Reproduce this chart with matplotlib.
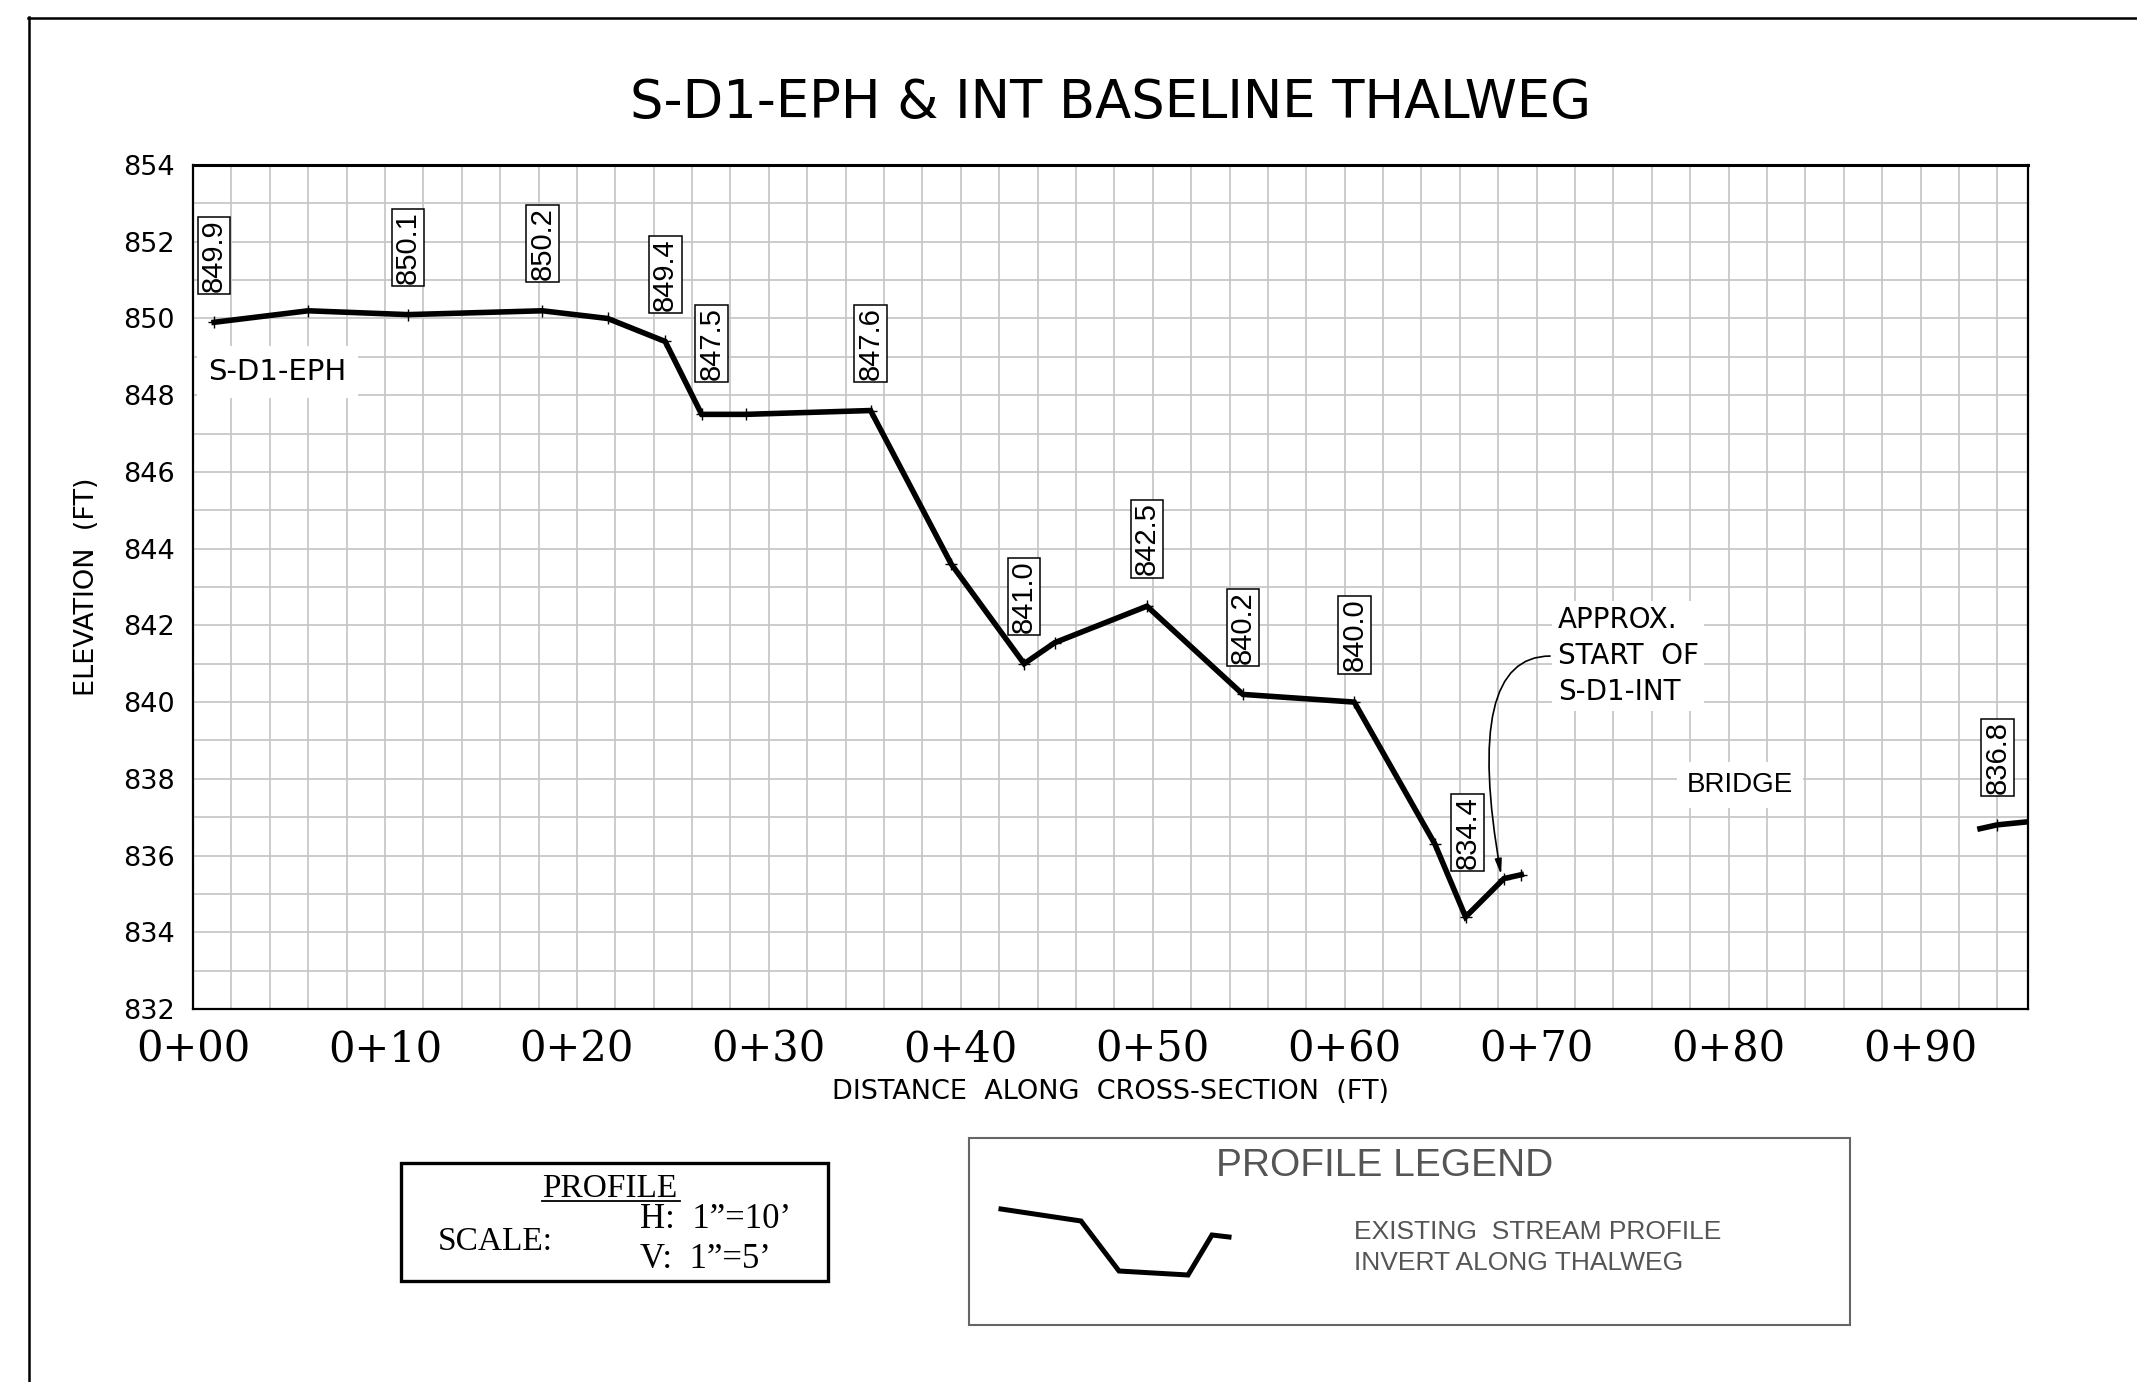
import matplotlib.pyplot as plt
import matplotlib.ticker as mticker

# thalweg survey, S-D1-EPH down to the approx. start of S-D1-INT
dist = [1.1, 6.0, 11.2, 18.2, 21.6, 24.6, 26.5, 28.8, 35.3, 39.5, 43.3, 44.9,
        49.7, 54.7, 60.5, 64.7, 66.3, 68.3, 69.2]
elev = [849.9, 850.2, 850.1, 850.2, 850.0, 849.4, 847.5, 847.5, 847.6, 843.6,
        841.0, 841.55, 842.5, 840.2, 840.0, 836.3, 834.4, 835.4, 835.5]

# short piece past the bridge
dist_ds = [93.1, 94.0, 96.0]
elev_ds = [836.7, 836.8, 836.9]

# points that carry an elevation tag
tag_dist = [1.1, 11.2, 18.2, 24.6, 26.5, 35.3, 43.3, 49.7, 54.7, 60.5, 66.3, 94.0]
tag_elev = [849.9, 850.1, 850.2, 849.4, 847.5, 847.6, 841.0, 842.5, 840.2, 840.0, 834.4, 836.8]

xtick_vals = [0, 10, 20, 30, 40, 50, 60, 70, 80, 90]
xtick_labels = ['0+00', '0+10', '0+20', '0+30', '0+40', '0+50', '0+60', '0+70', '0+80', '0+90']
ytick_vals = [832, 834, 836, 838, 840, 842, 844, 846, 848, 850, 852, 854]

# small sketch used as the legend symbol (page pixels)
legend_sym_x = [1001, 1081, 1119, 1188, 1212, 1229]
legend_sym_y = [1209, 1221, 1271, 1275, 1235, 1237]

W, H = 2137, 1382
plt.rcParams['font.family'] = ['DejaVu Sans']

fig = plt.figure(figsize=(W / 100, H / 100), dpi=100)
fig.patch.set_facecolor('white')

# page overlay in pixel coords for sheet border and boxes under the plot
page = fig.add_axes([0, 0, 1, 1])
page.set_xlim(0, W)
page.set_ylim(H, 0)
page.axis('off')

ax = fig.add_axes([193 / W, 1 - 1009 / H, (2028 - 193) / W, (1009 - 165) / H])
ax.set_xlim(0, 95.6)
ax.set_ylim(832, 854)
ax.xaxis.set_major_locator(mticker.FixedLocator(xtick_vals))
ax.xaxis.set_minor_locator(mticker.MultipleLocator(2))
ax.yaxis.set_major_locator(mticker.FixedLocator(ytick_vals))
ax.yaxis.set_minor_locator(mticker.MultipleLocator(1))
ax.set_xticklabels(xtick_labels, family='DejaVu Serif', fontsize=30)
ax.set_yticklabels([str(v) for v in ytick_vals], fontsize=19.5)
ax.tick_params(which='both', length=0)
ax.tick_params(axis='x', pad=14)
ax.tick_params(axis='y', pad=13)
ax.grid(which='minor', color='#c6c6c6', lw=1.25)
ax.grid(which='major', color='#c6c6c6', lw=1.25)
ax.set_axisbelow(True)
for s in ax.spines.values():
    s.set_linewidth(1.6)
ax.spines['top'].set_linewidth(2.2)

ax.plot(dist, elev, color='black', lw=4, marker='+', ms=8, mew=1, solid_joinstyle='miter', zorder=4)
ax.plot(dist_ds, elev_ds, color='black', lw=4, zorder=4)
ax.plot(dist_ds[1:2], elev_ds[1:2], color='black', marker='+', ms=8, mew=1, lw=0, zorder=4)

# two tags sit off to the side of the line in the drawing
nudge = {847.5: (0.5, 0.1), 834.4: (0.1, 0.45)}
for x, y in zip(tag_dist, tag_elev):
    dx, dy = nudge.get(y, (0, 0))
    ax.text(x + dx, y + 0.8 + dy, f'{y:.1f}', rotation=90, ha='center', va='bottom',
            family='Liberation Sans', fontsize=21, zorder=5,
            bbox=dict(boxstyle='square,pad=0.08', fc='white', ec='black', lw=1.1))

ax.text(0.8, 848.6, 'S-D1-EPH', fontsize=21, ha='left', va='center', zorder=5,
        bbox=dict(boxstyle='square,pad=0.4', fc='white', ec='none'))
ax.text(71.1, 842.5, 'APPROX.\nSTART  OF\nS-D1-INT', fontsize=20, ha='left', va='top',
        linespacing=1.35, zorder=5,
        bbox=dict(boxstyle='square,pad=0.2', fc='white', ec='none'))
ax.text(80.6, 837.84, 'BRIDGE', family='Liberation Sans', fontsize=20, ha='center', va='center',
        zorder=5, bbox=dict(boxstyle='square,pad=0.35', fc='white', ec='none'))
ax.annotate('', xy=(68.15, 835.5), xytext=(70.7, 841.2), zorder=5,
            arrowprops=dict(arrowstyle='-|>,head_length=0.9,head_width=0.2', color='black', lw=1.2,
                            shrinkA=0, shrinkB=0,
                            connectionstyle='angle3,angleA=0,angleB=100'))

ax.text(0.5, (1009 - 118) / (1009 - 165), 'S-D1-EPH & INT BASELINE THALWEG', transform=ax.transAxes,
        ha='center', va='baseline', fontsize=38)
ax.set_xlabel('DISTANCE  ALONG  CROSS-SECTION  (FT)', fontsize=19.5)
ax.xaxis.set_label_coords(0.5, (1009 - 1079) / (1009 - 165))
ax.set_ylabel('ELEVATION  (FT)', fontsize=19.5)
ax.yaxis.set_label_coords((100 - 193) / (2028 - 193), 0.5)

# sheet border
page.plot([28, W], [17.5, 17.5], color='black', lw=1.8)
page.plot([28.5, 28.5], [17, H], color='black', lw=1.8)

# scale box
page.add_patch(plt.Rectangle((401, 1163), 427, 118, fill=False, ec='black', lw=2.4))
page.text(610, 1197, 'PROFILE', family='Liberation Serif', fontsize=24, ha='center', va='baseline')
page.plot([542, 680], [1201, 1201], color='black', lw=1.3)
page.text(438, 1250, 'SCALE:', family='Liberation Serif', fontsize=24, ha='left', va='baseline')
page.text(640, 1228, 'H:  1\u201d=10\u2019', family='Liberation Serif', fontsize=25, ha='left', va='baseline')
page.text(640, 1268, 'V:  1\u201d=5\u2019', family='Liberation Serif', fontsize=25, ha='left', va='baseline')

# profile legend
page.add_patch(plt.Rectangle((969, 1138), 881, 187, fill=False, ec='#666666', lw=1.5))
page.text(1385, 1176, 'PROFILE LEGEND', family='Liberation Sans', fontsize=28, color='#555555',
          ha='center', va='baseline')
page.plot(legend_sym_x, legend_sym_y, color='black', lw=3.6, solid_joinstyle='miter')
page.text(1354, 1239, 'EXISTING  STREAM PROFILE', family='Liberation Sans', fontsize=19,
          color='#555555', ha='left', va='baseline')
page.text(1354, 1270, 'INVERT ALONG THALWEG', family='Liberation Sans', fontsize=19,
          color='#555555', ha='left', va='baseline')

fig.savefig('out.png', dpi=100, facecolor='white')
